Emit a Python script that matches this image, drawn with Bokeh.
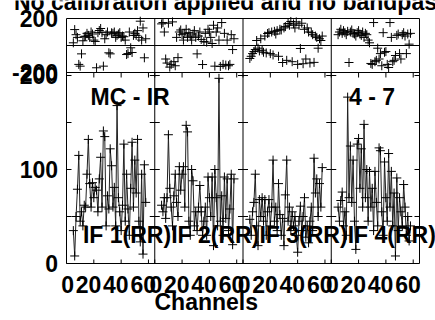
import numpy as np
from bokeh.plotting import figure
from bokeh.models import Range1d
from bokeh.core.properties import value
from bokeh.embed import file_html
from bokeh.resources import INLINE

# ---------------- data ----------------
title_text = "No calibration applied and no bandpass"
source_label = "MC - IR"
baseline_label = "4 - 7"
if_labels = ["IF 1(RR)", "IF 2(RR)", "IF 3(RR)", "IF 4(RR)"]
x_axis_label = "Channels"
x_tick_values = [0, 20, 40, 60]
x_tick_labels = ["0", "20", "40", "60"]
amp_tick_values = [0, 100, 200]
amp_tick_labels = ["0", "100", "200"]
amp_small_ticks = [50, 100, 150, 200]
phase_tick_values = [200, -200]
phase_tick_labels = ["200", "-200"]

channels = list(range(5, 59))

amp_if1 = [35, 8, 50, 79, 115, 45, 55, 40, 62, 60, 95, 132, 85, 60, 86, 70, 81, 78,
           55, 90, 113, 60, 141, 135, 40, 72, 58, 122, 104, 60, 81, 40, 168, 70, 55,
           35, 62, 127, 45, 95, 58, 30, 80, 129, 60, 110, 75, 132, 45, 23, 95, 10, 105, 65]
amp_if2 = [62, 55, 70, 48, 70, 137, 80, 60, 40, 72, 95, 65, 50, 103, 78, 95, 103, 60,
           147, 140, 45, 30, 100, 88, 40, 55, 35, 60, 83, 55, 30, 45, 60, 30, 92, 70,
           50, 92, 19, 100, 70, 40, 197, 45, 72, 30, 92, 48, 90, 35, 58, 95, 20, 90]
amp_if3 = [47, 30, 55, 65, 95, 40, 19, 68, 50, 70, 45, 68, 30, 55, 68, 40, 60, 110,
           45, 60, 35, 85, 52, 30, 48, 19, 73, 110, 45, 60, 35, 55, 40, 50, 30, 12,
           45, 61, 35, 50, 70, 28, 40, 22, 45, 60, 35, 112, 75, 90, 50, 85, 60, 102]
amp_if4 = [60, 45, 67, 76, 40, 55, 30, 177, 70, 125, 65, 110, 45, 15, 127, 133, 80, 122,
           60, 148, 70, 100, 45, 98, 60, 80, 35, 98, 65, 40, 123, 120, 55, 30, 108, 70,
           45, 117, 60, 98, 40, 75, 8, 91, 35, 70, 55, 40, 84, 60, 30, 50, 24, 40]

ph_if1 = [20, 118, 80, 60, -140, -153, -62, 35, 65, 69, 90, 75, 60, 100, 85, 40, 30, -165,
          95, 111, 126, 95, -153, 50, 80, 100, -54, -62, 94, 90, 100, 60, 75, 85, 95, 60,
          70, 65, 40, -67, -60, 100, -17, -52, 75, 90, 75, 110, 60, 180, 40, 130, -91, 50]
ph_if2 = [160, 170, 100, -100, -130, 165, -160, -140, 175, -120, -150, 60, -90, 100, 115,
          80, 40, 90, 120, 60, 95, 70, 40, 85, 110, 60, -62, 70, 100, 45, -141, 30, 90,
          25, 120, 100, 60, 15, 150, -153, 100, 130, 40, -155, 170, -140, 90, -145, 40,
          -150, -140, 80, -30, 50]
ph_if3 = [-96, -80, -60, -45, -30, 37, -20, -40, 50, -35, -50, 70, -55, 89, 95, -60, 100,
          -70, 105, 85, 110, -80, 120, 115, -126, 130, 140, -110, 163, 150, 178, -120, 160,
          130, 175, -140, 150, -22, 165, -135, 120, -100, 130, 100, -130, 95, 80, -125, 70,
          60, -20, 50, 37, 70]
ph_if4 = [80, 100, 120, 90, 110, 95, 80, 105, -126, 100, 115, 90, 85, 70, 95, 110, 85, 75,
          100, 60, 90, 80, 40, 20, -133, -140, 170, -120, -110, -20, -100, -60, -150, 95,
          -50, -45, -140, -163, 170, 60, -120, -110, -74, 75, 85, -60, -100, 80, 95, 70,
          -60, 85, 10, 90]

amps = [amp_if1, amp_if2, amp_if3, amp_if4]
phases = [ph_if1, ph_if2, ph_if3, ph_if4]

# ---------------- layout (pixels of the 435x320 canvas) ----------------
W, H = 435, 320
PL, PR = 66, 419          # panel left / right
PT, PM, PB = 18, 72, 263  # phase top, phase/amp boundary, amplitude zero line
NCOL = 4
COLW = 64.6               # channels spanned by one column
PX_CH = (PR - PL) / (NCOL * COLW)
PX_AMP = 0.94
PH_MAX = 200.0
PX_PH = (PM - PT) / (2 * PH_MAX)

AMP_PANEL = (PB - PM) / PX_AMP
AMP_FRAME_TOP = (PB - PT) / PX_AMP

def amp_at(py):
    return (PB - py) / PX_AMP

def ch_at(px):
    return (px - PL) / PX_CH

FONT = "Liberation Sans"
FS = "23px"
TXT = dict(text_font=value(FONT), text_font_style="bold", text_font_size=FS,
           text_color="black", text_baseline="middle")

x0, x1 = ch_at(0), ch_at(W)
p = figure(width=W, height=H, min_border=0,
           x_range=Range1d(x0, x1), y_range=Range1d(amp_at(H), amp_at(0)),
           x_axis_location=None, y_axis_location=None,
           output_backend="svg", toolbar_location=None, tools="")
p.extra_y_ranges = {"phase": Range1d(-PH_MAX - (H - PM) / PX_PH, PH_MAX + PT / PX_PH)}
p.extra_x_ranges = {f"c{k}": Range1d(x0 - k * COLW, x1 - k * COLW) for k in range(NCOL)}
p.xgrid.visible = False
p.ygrid.visible = False
p.outline_line_color = None
p.background_fill_color = "white"
p.border_fill_color = "white"

LINE = dict(line_color="black", line_width=1)
XEND = NCOL * COLW

# panel box, column separators, panel boundary, phase zero line
p.quad(left=[0], right=[XEND], bottom=[0], top=[AMP_FRAME_TOP], fill_color=None, **LINE)
bounds = [k * COLW for k in range(NCOL + 1)]
p.segment(x0=bounds[1:-1], x1=bounds[1:-1], y0=[0] * (NCOL - 1),
          y1=[AMP_FRAME_TOP] * (NCOL - 1), **LINE)
p.segment(x0=[0], x1=[XEND], y0=[AMP_PANEL], y1=[AMP_PANEL], **LINE)
p.segment(x0=[0], x1=[XEND], y0=[0], y1=[0], y_range_name="phase", **LINE)

# inward ticks on the sides of the amplitude panels
TK = 5 / PX_CH
sx0, sx1, sy = [], [], []
for k, b in enumerate(bounds):
    for v in amp_small_ticks:
        sx0.append(b - (TK if k > 0 else 0))
        sx1.append(b + (TK if k < NCOL else 0))
        sy.append(v)
p.segment(x0=sx0, x1=sx1, y0=sy, y1=sy, **LINE)

# ticks along the bottom (up) and along the top of the amplitude panels (down)
xt = [k * COLW + v for k in range(NCOL) for v in x_tick_values]
p.segment(x0=xt, x1=xt, y0=[0] * len(xt), y1=[4 / PX_AMP] * len(xt), **LINE)
p.segment(x0=xt, x1=xt, y0=[AMP_PANEL] * len(xt),
          y1=[AMP_PANEL - 5 / PX_AMP] * len(xt), **LINE)

# tick labels (x labels set right-aligned just past their tick, as in the reference)
LAB_DX = 7.5 / PX_CH
p.text(x=[t + LAB_DX for t in xt], y=[amp_at(283.5)] * len(xt),
       text=x_tick_labels * NCOL, text_align="right", **TXT)
lab_x = ch_at(57.5)
p.text(x=[lab_x] * len(amp_tick_values), y=amp_tick_values, text=amp_tick_labels,
       text_align="right", **TXT)
p.text(x=[lab_x] * len(phase_tick_values), y=phase_tick_values, text=phase_tick_labels,
       y_range_name="phase", text_align="right", **TXT)

# data
for k in range(NCOL):
    xr = f"c{k}"
    p.line(channels, amps[k], x_range_name=xr, line_color="#222222", line_width=1)
    p.scatter(channels, amps[k], x_range_name=xr, marker="cross", size=9, **LINE)
    p.scatter(channels, phases[k], x_range_name=xr, y_range_name="phase",
              marker="cross", size=9, **LINE)
    p.text(x=[12], y=[amp_at(234)], text=[if_labels[k]], x_range_name=xr,
           text_align="left", **TXT)

p.text(x=[ch_at(90)], y=[amp_at(96)], text=[source_label], text_align="left", **TXT)
p.text(x=[ch_at(348.5)], y=[amp_at(96.5)], text=[baseline_label], text_align="left", **TXT)
p.text(x=[ch_at(13.5)], y=[amp_at(1.3)], text=[title_text], text_align="left", **TXT)
p.text(x=[ch_at(154)], y=[amp_at(301.5)], text=[x_axis_label], text_align="left", **TXT)

open("out.html", "w").write(file_html(p, INLINE))
